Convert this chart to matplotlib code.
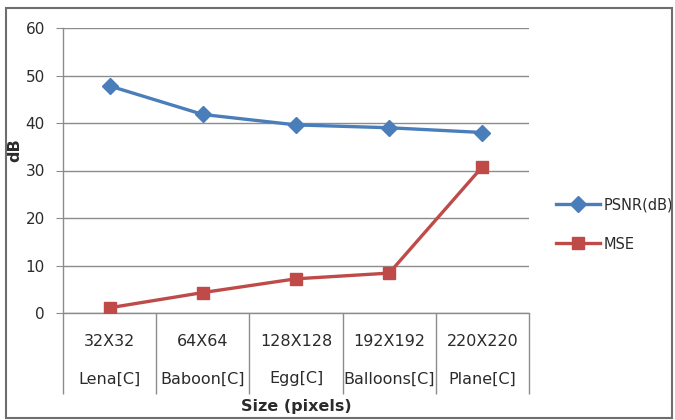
import matplotlib
matplotlib.use("Agg")
import matplotlib.pyplot as plt
from matplotlib.patches import Rectangle
from matplotlib.transforms import blended_transform_factory

sizes = ["32X32", "64X64", "128X128", "192X192", "220X220"]
images = ["Lena[C]", "Baboon[C]", "Egg[C]", "Balloons[C]", "Plane[C]"]
psnr = [47.8, 41.8, 39.6, 39.0, 38.0]
mse = [1.1, 4.3, 7.2, 8.4, 30.8]
yticks = [0, 10, 20, 30, 40, 50, 60]

plt.rcParams['font.family'] = ['DejaVu Sans']
txt = '#2b2b2b'
grid = '#8c8c8c'

fig = plt.figure(figsize=(6.75, 4.2), dpi=100)
ax = fig.add_axes([63/675, 1-313/420, (529-63)/675, (313-28)/420])

x = list(range(len(sizes)))
ax.plot(x, psnr, color='#4A7EBB', lw=2.4, marker='D', ms=8, label='PSNR(dB)', zorder=3)
ax.plot(x, mse, color='#BE4B48', lw=2.4, marker='s', ms=8.5, label='MSE', zorder=3)

ax.set_xlim(-0.5, len(sizes) - 0.5)
ax.set_ylim(0, 60)
ax.set_yticks(yticks)
ax.set_yticklabels([str(v) for v in yticks], fontsize=11, color=txt)
ax.yaxis.grid(True, color=grid, lw=1)
ax.set_axisbelow(True)
for s in ['top', 'right']:
    ax.spines[s].set_visible(False)
for s in ['left', 'bottom']:
    ax.spines[s].set_color(grid)
    ax.spines[s].set_linewidth(1)
ax.tick_params(axis='y', length=5, color=grid, pad=8)

# category separators as long minor ticks
ax.set_xticks([i - 0.5 for i in range(len(sizes) + 1)], minor=True)
ax.set_xticks([])
ax.tick_params(axis='x', which='minor', length=58, color=grid, width=1)

tr = blended_transform_factory(ax.transData, fig.transFigure)
for i, (s, im) in enumerate(zip(sizes, images)):
    ax.text(i, 1-341/420, s, transform=tr, ha='center', va='center', fontsize=11.5, color=txt)
    ax.text(i, 1-379/420, im, transform=tr, ha='center', va='center', fontsize=11.5, color=txt)

fig.text(296/675, 1-407/420, 'Size (pixels)', ha='center', va='center', fontsize=11.5,
         fontweight='bold', color=txt)
fig.text(15/675, 1-150/420, 'dB', ha='center', va='center', rotation=90, fontsize=11.5,
         fontweight='bold', color=txt)

fig.legend(loc='center left', bbox_to_anchor=(556/675, 1-224.5/420), frameon=False,
           fontsize=10.5, handlelength=3.0, handletextpad=0.25, labelspacing=1.65,
           borderpad=0, borderaxespad=0, labelcolor=txt)

fig.patches.append(Rectangle((6/675, 2/420), 666/675, 410/420, transform=fig.transFigure,
                             fill=False, edgecolor='#6e6e6e', lw=1.5, zorder=10))

fig.savefig('out.png', dpi=100)
